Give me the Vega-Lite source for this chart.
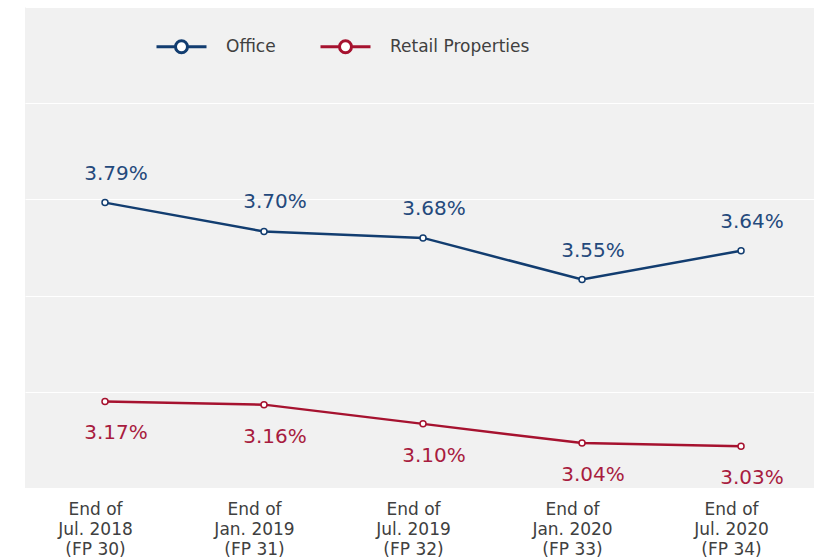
{
  "$schema": "https://vega.github.io/schema/vega-lite/v6.json",
  "width": 789,
  "height": 481,
  "autosize": {"type": "none"},
  "padding": {"left": 25, "top": 7, "right": 0, "bottom": 70},
  "background": "white",
  "config": {
    "view": {"fill": "#f1f1f1", "stroke": null},
    "font": "DejaVu Sans",
    "legend": {
      "orient": "none",
      "legendX": 130,
      "legendY": 13,
      "direction": "horizontal",
      "title": null,
      "symbolType": "M-1,0H-0.24M0.24,0H1M0.24,0A0.24,0.24,0,1,1,-0.24,0A0.24,0.24,0,1,1,0.24,0",
      "symbolSize": 2500,
      "symbolStrokeWidth": 3,
      "symbolFillColor": "white",
      "labelFontSize": 17,
      "labelColor": "#404040",
      "labelOffset": 18,
      "columnPadding": 38
    }
  },
  "data": {
    "values": [
      {"period": "End of|Jul. 2018|(FP 30)", "type": "Office", "value": 0.0379},
      {"period": "End of|Jan. 2019|(FP 31)", "type": "Office", "value": 0.0370},
      {"period": "End of|Jul. 2019|(FP 32)", "type": "Office", "value": 0.0368},
      {"period": "End of|Jan. 2020|(FP 33)", "type": "Office", "value": 0.0355},
      {"period": "End of|Jul. 2020|(FP 34)", "type": "Office", "value": 0.0364},
      {"period": "End of|Jul. 2018|(FP 30)", "type": "Retail Properties", "value": 0.0317},
      {"period": "End of|Jan. 2019|(FP 31)", "type": "Retail Properties", "value": 0.0316},
      {"period": "End of|Jul. 2019|(FP 32)", "type": "Retail Properties", "value": 0.0310},
      {"period": "End of|Jan. 2020|(FP 33)", "type": "Retail Properties", "value": 0.0304},
      {"period": "End of|Jul. 2020|(FP 34)", "type": "Retail Properties", "value": 0.0303}
    ]
  },
  "encoding": {
    "x": {
      "field": "period",
      "type": "ordinal",
      "sort": null,
      "scale": {"type": "point", "padding": 0.481, "align": 0.523},
      "axis": {
        "title": null,
        "labelAngle": 0,
        "labelExpr": "split(datum.label, '|')",
        "labelFontSize": 17,
        "labelLineHeight": 20,
        "labelColor": "#404040",
        "labelPadding": 13,
        "labelOffset": -10,
        "labelBaseline": "top",
        "ticks": false,
        "domain": false,
        "grid": false
      }
    },
    "y": {
      "field": "value",
      "type": "quantitative",
      "scale": {"domain": [0.029, 0.044], "nice": false, "zero": false},
      "axis": {
        "title": null,
        "values": [0.029, 0.032, 0.035, 0.038, 0.041, 0.044],
        "labels": false,
        "ticks": false,
        "domain": false,
        "gridColor": "white",
        "gridWidth": 1.2
      }
    },
    "color": {
      "field": "type",
      "type": "nominal",
      "scale": {"domain": ["Office", "Retail Properties"], "range": ["#123d70", "#a6122f"]}
    }
  },
  "layer": [
    {"mark": {"type": "line", "strokeWidth": 2.5}},
    {"mark": {"type": "point", "filled": false, "fill": "white", "fillOpacity": 1, "size": 36, "strokeWidth": 1.5, "opacity": 1}},
    {
      "transform": [{"filter": "datum.type === 'Office'"}],
      "mark": {"type": "text", "dy": -29, "dx": 11, "fontSize": 20},
      "encoding": {"text": {"field": "value", "type": "quantitative", "format": ".2%"}, "color": {"value": "#24497c"}}
    },
    {
      "transform": [{"filter": "datum.type === 'Retail Properties'"}],
      "mark": {"type": "text", "dy": 32, "dx": 11, "fontSize": 20},
      "encoding": {"text": {"field": "value", "type": "quantitative", "format": ".2%"}, "color": {"value": "#a81c3f"}}
    }
  ]
}
